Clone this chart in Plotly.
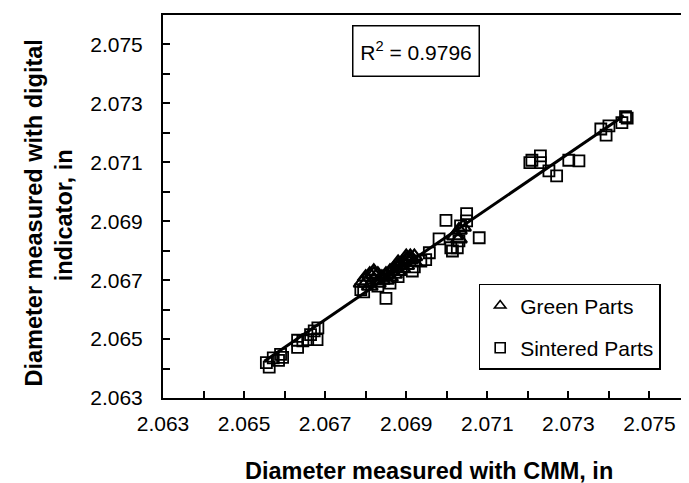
import plotly.graph_objects as go

# ---- data ----
green_x = [2.0679, 2.0680, 2.0680, 2.0681, 2.0681, 2.0682, 2.0682, 2.0682, 2.0683, 2.0683, 2.0684,
           2.0684, 2.0685, 2.0685,
           2.0686, 2.0686, 2.0687, 2.0687, 2.0688, 2.0688, 2.0688, 2.0689, 2.0689, 2.0690, 2.0690,
           2.0690, 2.0691, 2.0691, 2.0692, 2.0692,
           2.0702, 2.0703, 2.0704, 2.0703]
green_y = [2.0669, 2.0671, 2.0669, 2.0672, 2.0668, 2.0673, 2.0670, 2.0672, 2.0672, 2.0669, 2.0671,
           2.0670, 2.0670, 2.0672,
           2.0671, 2.0673, 2.0674, 2.0672, 2.0675, 2.0673, 2.0676, 2.0676, 2.0674, 2.0678, 2.0675,
           2.0677, 2.0677, 2.0678, 2.0676, 2.0678,
           2.0685, 2.0687, 2.0688, 2.0684]

sint_x = [2.06555, 2.06562, 2.06572, 2.06585, 2.06590, 2.06595, 2.06632, 2.06632, 2.06645, 2.06657,
          2.06664, 2.06673, 2.06680, 2.06682,
          2.06788, 2.06795, 2.06830, 2.06860, 2.06880, 2.06850, 2.06915, 2.06920,
          2.06936, 2.06948, 2.06957, 2.06981, 2.06998, 2.07010, 2.07014, 2.07026, 2.07030, 2.07034,
          2.07049, 2.07049, 2.07080,
          2.07205, 2.07210, 2.07231, 2.07231, 2.07252, 2.07271, 2.07301, 2.07326,
          2.07380, 2.07393, 2.07400, 2.07432, 2.07441, 2.07445]
sint_y = [2.06420, 2.06405, 2.06436, 2.06428, 2.06448, 2.06438, 2.06472, 2.06496, 2.06494, 2.06498,
          2.06515, 2.06528, 2.06498, 2.06538,
          2.06668, 2.06660, 2.06680, 2.06690, 2.06712, 2.06638, 2.06731, 2.06745,
          2.06765, 2.06770, 2.06793, 2.06840, 2.06903, 2.06810, 2.06799, 2.06810, 2.06833, 2.06884,
          2.06901, 2.06926, 2.06844,
          2.07099, 2.07107, 2.07122, 2.07099, 2.07071, 2.07054, 2.07107, 2.07105,
          2.07213, 2.07192, 2.07224, 2.07235, 2.07255, 2.07250]

fit_x = [2.06550, 2.07437]
fit_y = [2.06425, 2.07258]

tick_vals = [2.063, 2.065, 2.067, 2.069, 2.071, 2.073, 2.075]
tick_text = ["2.063", "2.065", "2.067", "2.069", "2.071", "2.073", "2.075"]
axis_range = [2.063, 2.076]
minor_step = 0.001

series_names = ["Green Parts", "Sintered Parts"]
r2_value = 0.9796

FONT = "Liberation Sans, Arial, sans-serif"

fig = go.Figure()
# data traces
fig.add_trace(go.Scatter(
    x=green_x, y=green_y, mode="markers", name=series_names[0], showlegend=False,
    marker=dict(symbol="triangle-up-open", size=14, color="black", line=dict(width=2.2, color="black")),
))
fig.add_trace(go.Scatter(
    x=sint_x, y=sint_y, mode="markers", name=series_names[1], showlegend=False,
    marker=dict(symbol="square-open", size=11, color="black", line=dict(width=1.8, color="black")),
))
fig.add_trace(go.Scatter(
    x=fit_x, y=fit_y, mode="lines", showlegend=False, name="fit",
    line=dict(color="black", width=3),
))
# legend entries (smaller symbols, as in the reference legend)
fig.add_trace(go.Scatter(
    x=[None], y=[None], mode="markers", name=series_names[0], legendgroup="g",
    marker=dict(symbol="triangle-up-open", size=10, color="black", line=dict(width=1.6, color="black")),
))
fig.add_trace(go.Scatter(
    x=[None], y=[None], mode="markers", name=series_names[1], legendgroup="s",
    marker=dict(symbol="square-open", size=10, color="black", line=dict(width=1.6, color="black")),
))

axis_common = dict(
    tickvals=tick_vals, ticktext=tick_text,
    ticks="inside", ticklen=7, tickwidth=2, tickcolor="black",
    minor=dict(ticks="inside", tick0=axis_range[0], dtick=minor_step, ticklen=7,
               tickwidth=2, tickcolor="black", showgrid=False),
    showline=True, linecolor="black", linewidth=2, mirror=True,
    showgrid=False, zeroline=False,
    tickfont=dict(family=FONT, size=21, color="black"),
    range=axis_range,
)

fig.update_layout(
    width=689, height=483,
    margin=dict(l=155, r=5, t=7, b=93),
    paper_bgcolor="white", plot_bgcolor="white",
    font=dict(family=FONT, size=21, color="black"),
    xaxis=dict(**axis_common, ticklabelstandoff=6),
    yaxis=dict(**axis_common, ticklabelstandoff=14),
    legend=dict(
        x=0.599, y=0.298, xanchor="left", yanchor="top",
        bordercolor="black", borderwidth=1.5, bgcolor="white",
        font=dict(family=FONT, size=21, color="black"),
        traceorder="grouped", tracegroupgap=12,
    ),
    showlegend=True,
)

TITLE_FONT = dict(family=FONT, size=23.5, color="black")
fig.add_annotation(
    text="<b>Diameter measured with CMM, in</b>", xref="paper", yref="paper",
    x=0.5047, y=-0.2298, xanchor="center", yanchor="bottom", showarrow=False,
    font=TITLE_FONT,
)
fig.add_annotation(
    text="<b>Diameter measured with digital</b>", xref="paper", yref="paper",
    x=-0.2457, y=0.483, xanchor="center", yanchor="middle", showarrow=False,
    font=TITLE_FONT, textangle=-90,
)
fig.add_annotation(
    text="<b>indicator, in</b>", xref="paper", yref="paper",
    x=-0.1871, y=0.478, xanchor="center", yanchor="middle", showarrow=False,
    font=TITLE_FONT, textangle=-90,
)
fig.add_annotation(
    text=f"R<sup>2</sup> = {r2_value}", xref="paper", yref="paper",
    x=0.481, y=0.905, xanchor="center", yanchor="middle", showarrow=False,
    font=dict(family=FONT, size=21, color="black"),
    width=111, height=35, borderpad=7,
    bordercolor="black", borderwidth=1.5, bgcolor="white",
)

fig.write_html("out.html")
